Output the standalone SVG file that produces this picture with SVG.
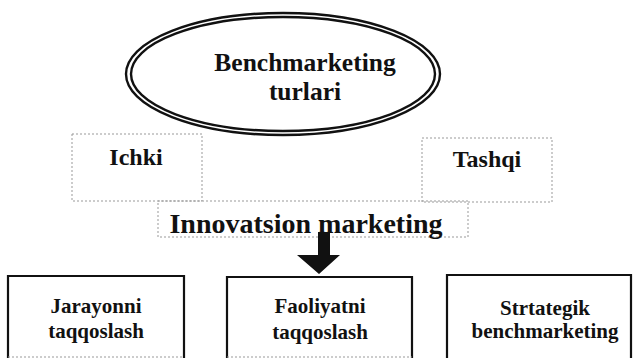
<svg xmlns="http://www.w3.org/2000/svg" width="635" height="359" viewBox="0 0 635 359">
<style>
text{font-family:"Liberation Serif","Times New Roman",serif;font-weight:bold;fill:#111;text-anchor:middle}
.dash{fill:none;stroke:#999;stroke-width:1;stroke-dasharray:2 2}
.box{fill:none;stroke:#111;stroke-width:2.2}
.ell{fill:none;stroke:#111;stroke-width:2.4}
</style>
<rect width="635" height="359" fill="#fff"/>
<g id="node-benchmarketing">
<ellipse class="ell" cx="283" cy="74" rx="157" ry="61"/>
<ellipse class="ell" cx="283" cy="74" rx="152" ry="57"/>
<text x="305" y="71" font-size="25.5">Benchmarketing</text>
<text x="305" y="100" font-size="25.5">turlari</text>
</g>
<g id="node-ichki">
<rect class="dash" x="72" y="134" width="130" height="67"/>
<text x="136" y="165" font-size="24">Ichki</text>
</g>
<g id="node-tashqi">
<rect class="dash" x="422" y="138" width="130" height="64"/>
<text x="487" y="167" font-size="24">Tashqi</text>
</g>
<g id="node-innovatsion">
<rect class="dash" x="158" y="201" width="310" height="36"/>
<text x="306" y="233" font-size="28">Innovatsion marketing</text>
</g>
<g id="connectors">
<polygon points="318,232 330,232 330,255 340,255 319,274 297,255 318,255" fill="#111"/>
</g>
<g id="node-jarayonni">
<path class="box" d="M8,358 V276 H184 V358"/>
<line class="dash" x1="8" y1="357" x2="184" y2="357"/>
<text x="96" y="313" font-size="21">Jarayonni</text>
<text x="96" y="338" font-size="21">taqqoslash</text>
</g>
<g id="node-faoliyatni">
<path class="box" d="M227,358 V277 H412 V358"/>
<line class="dash" x1="227" y1="357" x2="412" y2="357"/>
<text x="320" y="313" font-size="21">Faoliyatni</text>
<text x="320" y="339" font-size="21">taqqoslash</text>
</g>
<g id="node-strtategik">
<path class="box" d="M447,358 V275 H631 V358"/>
<text x="545" y="315" font-size="21">Strtategik</text>
<text x="545" y="338" font-size="21">benchmarketing</text>
</g>
</svg>
